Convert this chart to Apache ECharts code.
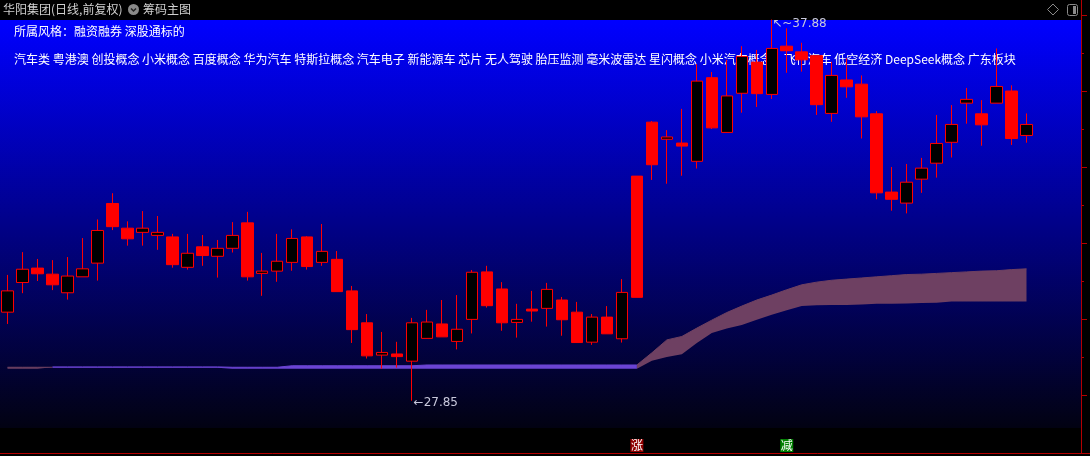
<!DOCTYPE html>
<html><head><meta charset="utf-8">
<script src="https://cdn.jsdelivr.net/npm/echarts@6/dist/echarts.min.js"></script>
<style>html,body{margin:0;padding:0;background:#000;overflow:hidden}#c{width:1090px;height:456px}</style>
</head><body><div id="c"></div>
<script>
// ---- data ----
const opens  = [30.18,30.96,31.34,31.18,30.69,31.11,31.47,33.04,32.39,32.28,32.20,32.16,31.36,31.90,31.65,31.86,32.53,31.20,31.26,31.49,32.16,31.49,31.57,30.74,29.90,29.05,29.08,28.89,29.49,29.87,29.41,29.99,31.24,30.79,29.91,30.26,30.28,30.50,30.18,29.39,30.05,29.48,30.57,35.18,34.73,34.63,34.15,36.35,34.91,35.94,36.76,35.91,37.18,37.03,36.93,35.41,36.29,36.18,35.40,33.34,33.05,33.68,34.10,34.65,35.68,35.40,35.68,36.00,34.83];
const closes = [30.74,31.31,31.19,30.90,31.13,31.32,32.33,32.43,32.11,32.39,32.28,31.43,31.73,31.67,31.86,32.20,31.11,31.26,31.52,32.12,31.38,31.78,30.72,29.72,29.03,29.12,29.01,29.90,29.92,29.53,29.73,31.23,30.35,29.90,29.99,30.21,30.78,29.98,29.38,30.05,29.61,30.70,33.76,34.06,34.79,34.55,36.26,35.03,35.87,36.91,35.93,37.12,37.06,36.82,35.64,36.41,36.11,35.32,33.32,33.15,33.60,33.97,34.62,35.12,35.78,35.11,36.12,34.75,35.12];
const lows   = [29.87,30.68,31.00,30.76,30.51,31.11,31.01,32.34,31.93,31.93,31.82,31.35,31.30,31.40,31.09,31.75,31.01,30.61,30.98,31.27,31.30,31.40,30.72,29.37,28.96,28.69,28.72,27.85,29.49,29.53,29.20,29.62,30.30,29.69,29.51,29.93,29.80,29.56,29.38,29.32,29.61,29.38,30.57,33.66,33.56,33.77,33.96,35.00,34.91,35.43,35.58,35.79,36.48,36.51,35.37,35.19,35.82,34.75,33.15,32.85,32.78,33.32,33.72,34.25,35.14,34.56,35.68,34.58,34.64];
const highs  = [31.16,31.76,31.58,31.55,31.63,32.13,32.62,33.31,32.57,32.84,32.71,32.24,32.24,32.21,32.08,32.55,32.82,31.74,32.24,32.36,32.18,32.50,31.79,30.87,30.13,29.66,29.40,30.03,30.24,30.50,30.63,31.29,31.40,30.97,30.40,30.74,30.95,30.58,30.45,30.13,30.34,31.05,33.76,35.21,34.97,35.53,36.71,36.50,36.82,37.18,37.08,37.88,37.65,37.27,36.93,36.77,36.86,36.41,35.47,34.00,34.08,34.24,35.37,35.63,36.08,35.76,37.12,36.15,35.41];
const categories = opens.map((_, i) => String(i + 1));

// chip-cost band: early short segment (days 1-4), flat low segment (days 4-43), rising band (days 43-69)
const earlyStart = 0;
const earlyLow  = [28.69,28.69,28.69,28.69];
const earlyHigh = [28.73,28.73,28.73,28.73];
const flatStart = 3;
const flatLow  = [28.72,28.72,28.72,28.72,28.72,28.72,28.72,28.72,28.72,28.72,28.72,28.72, 28.69,28.69,28.69,28.69, 28.69,28.69,28.69,28.69,28.69,28.69,28.69,28.69,28.69, 28.69,28.69,28.69,28.69,28.69,28.69,28.69,28.69,28.69,28.69,28.69,28.69,28.69,28.69,28.69];
const flatHigh = [28.74,28.74,28.74,28.74,28.74,28.74,28.74,28.74,28.74,28.74,28.74,28.74, 28.73,28.73,28.73,28.73, 28.77,28.77,28.77,28.77,28.77,28.77,28.77,28.77,28.77, 28.79,28.79,28.79,28.79,28.79,28.79,28.79,28.79,28.79,28.79,28.79,28.79,28.79,28.79,28.79];
const bandStart = 42;
const bandLow  = [28.69,28.90,29.00,29.07,29.37,29.63,29.75,29.84,29.98,30.11,30.23,30.34,30.36,30.37,30.37,30.38,30.40,30.40,30.41,30.42,30.43,30.46,30.46,30.46,30.46,30.46,30.46];
const bandHigh = [28.79,29.11,29.45,29.54,29.76,29.97,30.17,30.34,30.50,30.63,30.77,30.90,30.97,31.02,31.05,31.08,31.11,31.14,31.17,31.18,31.20,31.22,31.24,31.26,31.27,31.30,31.32];

const eventIdx  = [42, 52];
const eventText = ['涨', '减'];

const priceRange = {min: 27, max: 38};        // visible price window of the plot
const tickScale  = {min: 28, max: 38, interval: 2};

const titleText   = '华阳集团(日线,前复权)';
const chipText    = '筹码主图';
const styleText   = '所属风格：融资融券 深股通标的';
const conceptWords = ['汽车类','粤港澳','创投概念','小米概念','百度概念','华为汽车','特斯拉概念','汽车电子','新能源车','芯片','无人驾驶','胎压监测','毫米波雷达','星闪概念','小米汽车概念','飞行汽车','低空经济','DeepSeek概念','广东板块'];

// ---- build ----
const N = opens.length;
function place(start, arr) {
  const out = new Array(N).fill(null);
  arr.forEach((v, k) => { out[start + k] = v; });
  return out;
}
function merge(a, b) { return a.map((v, i) => v != null ? v : b[i]); }
const mauveLowFull  = merge(place(earlyStart, earlyLow),  place(bandStart, bandLow));
const mauveHighFull = merge(place(earlyStart, earlyHigh), place(bandStart, bandHigh));
const purpleLowFull  = place(flatStart, flatLow);
const purpleHighFull = place(flatStart, flatHigh);
const diff = (hi, lo) => hi.map((v, i) => (v == null || lo[i] == null) ? null : +(v - lo[i]).toFixed(3));

const conceptText = conceptWords.map((w, i) => w + (w === '小米汽车概念' ? '\u3000' : (i < conceptWords.length - 1 ? ' ' : ''))).join('');

const RED = '#ff0000';
const kData = opens.map((o, i) => {
  const item = {value: [o, closes[i], lows[i], highs[i]]};
  if (i > 0 && closes[i] >= closes[i - 1] * 1.095) {
    item.itemStyle = {color: RED, borderColor: RED};
  }
  return item;
});

const FONT = '"Noto Sans CJK SC", "Noto Sans", sans-serif';
const AXISRED = '#b40000';
const gridLeft = -1, gridWidth = 1035;
const frameRight = 9;
const pxPerUnit = 38;
const plotTop = 15;

const chart = echarts.init(document.getElementById('c'), null, {renderer: 'canvas'});
chart.setOption({
  backgroundColor: '#000000',
  animation: false,
  graphic: [
    {type: 'rect', z: -10, shape: {x: 0, y: 20, width: 1081, height: 408},
     style: {fill: new echarts.graphic.LinearGradient(0, 0, 0, 1, [{offset: 0, color: '#0000ff'}, {offset: 1, color: '#020212'}])}},
    {type: 'circle', z: -5, shape: {cx: 133.5, cy: 9.5, r: 5.5}, style: {fill: '#8a8a8a'}},
    {type: 'polyline', z: -4, shape: {points: [[131, 8.5], [133.5, 11], [136, 8.5]]}, style: {stroke: '#222', lineWidth: 1.5, fill: null}},
    {type: 'polygon', z: -5, shape: {points: [[1053, 4], [1058.5, 9.5], [1053, 15], [1047.5, 9.5]]}, style: {stroke: '#8a8a8a', lineWidth: 1, fill: null}},
    {type: 'rect', z: -5, shape: {x: 1067.5, y: 4.5, width: 10, height: 11, r: 2}, style: {stroke: '#8a8a8a', lineWidth: 1, fill: null}},
    {type: 'rect', z: -5, shape: {x: 1073, y: 6, width: 3, height: 8}, style: {fill: '#8a8a8a'}}
  ],
  title: [
    {text: titleText, left: 3, top: 3, padding: 0, z: 1, textStyle: {color: '#d0d0d0', fontSize: 12, fontWeight: 'normal', fontFamily: FONT}},
    {text: chipText, left: 143, top: 3, padding: 0, z: 1, textStyle: {color: '#d0d0d0', fontSize: 12, fontWeight: 'normal', fontFamily: FONT}},
    {text: styleText, left: 14, top: 25, padding: 0, z: 1, textStyle: {color: '#ffffff', fontSize: 12, fontWeight: 'normal', fontFamily: FONT}},
    {text: conceptText, left: 14, top: 53, padding: 0, z: 1, textStyle: {color: '#ffffff', fontSize: 12, fontWeight: 'normal', fontFamily: FONT}}
  ],
  grid: [
    {left: gridLeft, width: gridWidth, top: plotTop, height: (priceRange.max - priceRange.min) * pxPerUnit},
    {left: 0, right: frameRight, top: 0, bottom: 3},
    {left: 0, right: 0, top: 0, bottom: 3},
    {left: gridLeft, width: gridWidth, top: 439, height: 13},
    {left: 0, right: frameRight, top: plotTop, height: (tickScale.max - tickScale.min) * pxPerUnit}
  ],
  xAxis: [
    {type: 'category', gridIndex: 0, data: categories, boundaryGap: true, show: false},
    {type: 'value', gridIndex: 1, min: 0, max: 1, show: false},
    {type: 'value', gridIndex: 2, min: 0, max: 1, position: 'bottom',
     axisLine: {show: true, onZero: false, lineStyle: {color: AXISRED, width: 1}}, axisTick: {show: false}, axisLabel: {show: false}, splitLine: {show: false}},
    {type: 'category', gridIndex: 3, data: categories, boundaryGap: true, show: false},
    {type: 'value', gridIndex: 4, min: 0, max: 1, show: false}
  ],
  yAxis: [
    {type: 'value', gridIndex: 0, min: priceRange.min, max: priceRange.max, show: false},
    {type: 'value', gridIndex: 1, min: 0, max: 1, position: 'right',
     axisLine: {show: true, onZero: false, lineStyle: {color: AXISRED}}, axisTick: {show: false}, axisLabel: {show: false}, splitLine: {show: false}},
    {type: 'value', gridIndex: 2, min: 0, max: 1, show: false},
    {type: 'value', gridIndex: 3, min: -1, max: 1, show: false},
    {type: 'value', gridIndex: 4, min: tickScale.min, max: tickScale.max, interval: tickScale.interval, position: 'right',
     axisLine: {show: true, onZero: false, lineStyle: {color: AXISRED}},
     axisTick: {show: true, length: 6, lineStyle: {color: AXISRED}},
     minorTick: {show: true, splitNumber: 2, length: 3, lineStyle: {color: AXISRED}},
     axisLabel: {show: false}, splitLine: {show: false}, minorSplitLine: {show: false}}
  ],
  series: [
    {type: 'line', name: 'mauveBase', xAxisIndex: 0, yAxisIndex: 0, stack: 'm', data: mauveLowFull,
     symbol: 'none', lineStyle: {width: 0, opacity: 0}, silent: true, z: 1},
    {type: 'line', name: 'mauveBand', xAxisIndex: 0, yAxisIndex: 0, stack: 'm', data: diff(mauveHighFull, mauveLowFull),
     symbol: 'none', lineStyle: {width: 1, color: '#6e4062'}, areaStyle: {color: '#6e4062', opacity: 1}, silent: true, z: 1},
    {type: 'line', name: 'purpleBase', xAxisIndex: 0, yAxisIndex: 0, stack: 'p', data: purpleLowFull,
     symbol: 'none', lineStyle: {width: 0, opacity: 0}, silent: true, z: 1},
    {type: 'line', name: 'purpleBand', xAxisIndex: 0, yAxisIndex: 0, stack: 'p', data: diff(purpleHighFull, purpleLowFull),
     symbol: 'none', lineStyle: {width: 1, color: '#6b44d4'}, areaStyle: {color: '#6b44d4', opacity: 1}, silent: true, z: 1},
    {type: 'candlestick', name: 'K', xAxisIndex: 0, yAxisIndex: 0, data: kData, barWidth: 12, z: 3,
     itemStyle: {color: '#000000', color0: RED, borderColor: RED, borderColor0: RED, borderWidth: 1},
     markPoint: {
       symbol: 'circle', symbolSize: 1, itemStyle: {color: 'rgba(0,0,0,0)'},
       label: {show: true, position: 'right', distance: 1, color: '#c8c8dc', fontSize: 12, fontFamily: '"DejaVu Sans", sans-serif',
         formatter: p => (p.name === 'hi' ? '↖~' : '←') + Number(p.value).toFixed(2)},
       data: [
         {name: 'hi', type: 'max', valueDim: 'highest', label: {offset: [-1, 4]}},
         {name: 'lo', type: 'min', valueDim: 'lowest', label: {offset: [0, 2]}}
       ]
     }},
    {type: 'scatter', name: 'events', xAxisIndex: 3, yAxisIndex: 3, symbol: 'rect', symbolSize: [13, 13], z: 4,
     data: eventIdx.map((idx, k) => ({value: [idx, 0], text: eventText[k],
       itemStyle: {color: eventText[k] === '涨' ? '#900000' : '#008000', opacity: 1}})),
     label: {show: true, position: 'inside', color: '#ffffff', fontSize: 12, fontFamily: FONT,
       formatter: p => p.data.text}}
  ]
});
</script></body></html>
